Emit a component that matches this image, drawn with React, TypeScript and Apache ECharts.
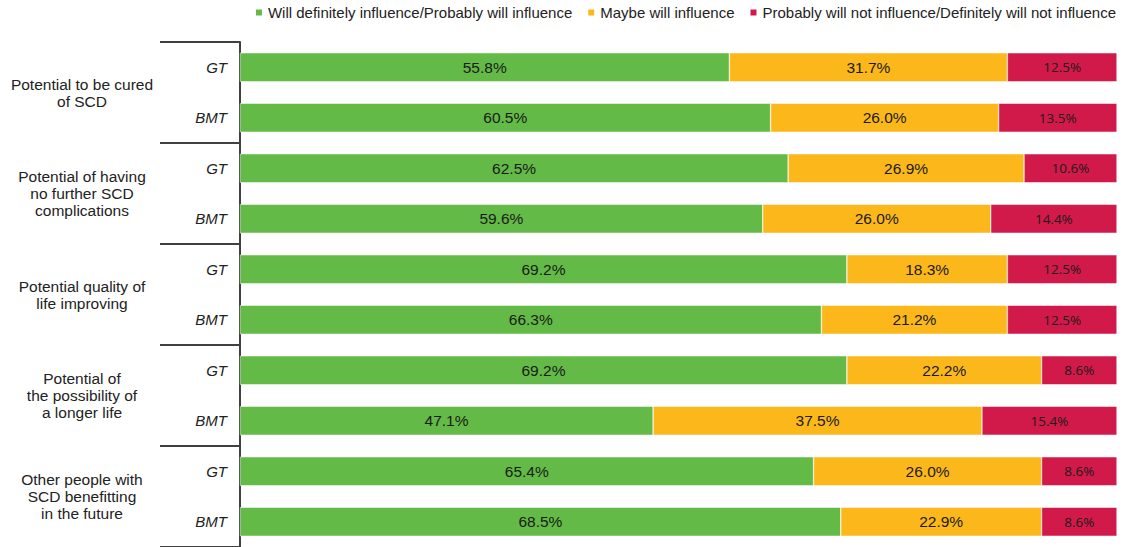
import React, { useEffect, useRef } from "react";
import * as echarts from "echarts";

const groups = [
  "Potential to be cured\nof SCD",
  "Potential of having\nno further SCD\ncomplications",
  "Potential quality of\nlife improving",
  "Potential of\nthe possibility of\na longer life",
  "Other people with\nSCD benefitting\nin the future",
];
const subLabels = ["GT", "BMT"];
const rowKeys = groups.flatMap((g, gi) => subLabels.map((s) => `${gi}|${s}`));

const seriesNames = [
  "Will definitely influence/Probably will influence",
  "Maybe will influence",
  "Probably will not influence/Definitely will not influence",
];
const willInfluence = [55.8, 60.5, 62.5, 59.6, 69.2, 66.3, 69.2, 47.1, 65.4, 68.5];
const maybeInfluence = [31.7, 26.0, 26.9, 26.0, 18.3, 21.2, 22.2, 37.5, 26.0, 22.9];
const notInfluence = [12.5, 13.5, 10.6, 14.4, 12.5, 12.5, 8.6, 15.4, 8.6, 8.6];
const colors = ["#63BA46", "#FCB81B", "#D21A4A"];

export default function App() {
  const ref = useRef<HTMLDivElement>(null);
  useEffect(() => {
    if (!ref.current) return;
    const chart = echarts.init(ref.current, null, { renderer: "svg" });
    const values = [willInfluence, maybeInfluence, notInfluence];
    chart.setOption({
      animation: false,
      legend: {
        top: 0,
        right: 12,
        icon: "rect",
        itemWidth: 8,
        itemHeight: 8,
        itemGap: 14,
        textStyle: { fontFamily: "Liberation Sans, Arial", fontSize: 15, color: "#222" },
        data: seriesNames,
      },
      grid: { left: 240, right: 16, top: 42, bottom: -1, containLabel: false },
      xAxis: { type: "value", min: 0, max: 100, show: false },
      yAxis: [
        {
          type: "category",
          inverse: true,
          data: rowKeys,
          position: "left",
          axisLine: { show: true, lineStyle: { color: "#404040", width: 2 } },
          axisTick: { show: false },
          axisLabel: {
            margin: 13,
            fontFamily: "Liberation Sans, Arial",
            fontStyle: "italic",
            fontSize: 15,
            color: "#222",
            formatter: (v: string) => v.split("|")[1],
          },
        },
        {
          type: "category",
          inverse: true,
          data: groups,
          position: "left",
          axisLine: { show: false },
          axisTick: { show: true, length: 80, lineStyle: { color: "#404040", width: 2 } },
          axisLabel: {
            margin: 158,
            align: "center",
            fontFamily: "Liberation Sans, Arial",
            fontSize: 15.5,
            lineHeight: 17,
            color: "#222",
          },
        },
      ],
      series: seriesNames.map((name, si) => ({
        name,
        type: "bar",
        stack: "total",
        yAxisIndex: 0,
        barWidth: 29,
        itemStyle: { color: colors[si], borderColor: "#fff", borderWidth: 0.5 },
        label: {
          show: true,
          position: "inside",
          formatter: (p: any) => `${Number(p.value).toFixed(1)}%`,
          color: "#1a1a1a",
          fontFamily: si === 2 ? "Open Sans" : "Liberation Sans, Arial",
          fontSize: si === 2 ? 13.5 : 15.5,
        },
        data: values[si],
      })),
    });
    return () => chart.dispose();
  }, []);
  return (
    <div
      ref={ref}
      style={{ position: "absolute", left: 0, top: 0, width: 1133, height: 547, background: "#fff" }}
    />
  );
}
